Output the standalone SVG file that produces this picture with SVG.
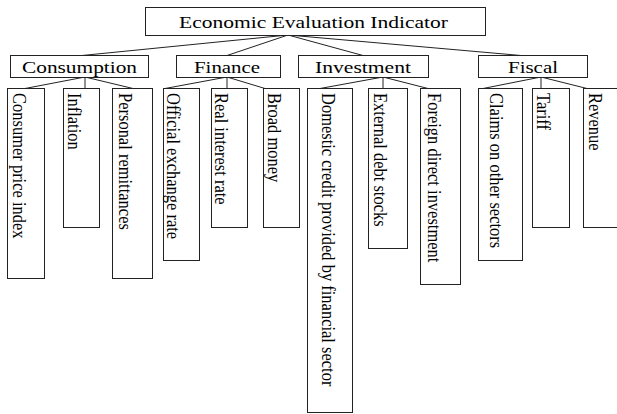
<svg xmlns="http://www.w3.org/2000/svg" width="617" height="414" viewBox="0 0 617 414">
<style>
.box{fill:#fff;stroke:#222;stroke-width:1}
.edge{fill:none;stroke:#222;stroke-width:1}
text{font-family:"Liberation Serif","Times New Roman",serif;font-size:16px;fill:#000}
.leaf{font-size:16.5px}
</style>
<rect x="0" y="0" width="617" height="414" fill="#fff"/>
<g id="connectors">
<path class="edge" d="M288,35 L82,55.5 M288,35 L227,55.5 M288,35 L363,55.5 M288,35 L521,55.5"/>
<path class="edge" d="M85,77 L25,88.5 M85,77 L85,88.5 M85,77 L133,88.5"/>
<path class="edge" d="M227,77 L165,88.5 M227,77 L227,88.5 M227,77 L265,88.5"/>
<path class="edge" d="M383,77 L320,88.5 M383,77 L383,88.5 M383,77 L428,88.5"/>
<path class="edge" d="M541,77 L483,88.5 M541,77 L541,88.5 M541,77 L587,88.5"/>
</g>
<g id="root">
<rect class="box" x="145.5" y="7.5" width="340" height="28"/>
<text x="179" y="27.5" textLength="269" lengthAdjust="spacingAndGlyphs" style="font-size:16.5px">Economic Evaluation Indicator</text>
</g>
<g id="consumption">
<rect class="box" x="10.5" y="55.5" width="138" height="22"/>
<text x="22" y="73" textLength="115" lengthAdjust="spacingAndGlyphs" style="font-size:16.5px">Consumption</text>
</g>
<g id="finance">
<rect class="box" x="176.5" y="55.5" width="104" height="22"/>
<text x="194" y="73" textLength="66" lengthAdjust="spacingAndGlyphs" style="font-size:16.5px">Finance</text>
</g>
<g id="investment">
<rect class="box" x="298.5" y="55.5" width="130" height="22"/>
<text x="315" y="73" textLength="96" lengthAdjust="spacingAndGlyphs" style="font-size:16.5px">Investment</text>
</g>
<g id="fiscal">
<rect class="box" x="478.5" y="55.5" width="109" height="22"/>
<text x="508" y="73" textLength="50" lengthAdjust="spacingAndGlyphs" style="font-size:16.5px">Fiscal</text>
</g>
<g id="cpi">
<rect class="box" x="7.5" y="88.5" width="37" height="190"/>
<text class="leaf" transform="translate(13,93) scale(1.1,1) rotate(90)">Consumer price index</text>
</g>
<g id="inflation">
<rect class="box" x="63.5" y="88.5" width="36" height="139"/>
<text class="leaf" transform="translate(68,93) scale(1.1,1) rotate(90)">Inflation</text>
</g>
<g id="remittances">
<rect class="box" x="112.5" y="88.5" width="40" height="190"/>
<text class="leaf" transform="translate(119,93) scale(1.1,1) rotate(90)">Personal remittances</text>
</g>
<g id="exchange">
<rect class="box" x="163.5" y="88.5" width="36" height="172"/>
<text class="leaf" transform="translate(167,93) scale(1.1,1) rotate(90)">Official exchange rate</text>
</g>
<g id="interest">
<rect class="box" x="211.5" y="88.5" width="36" height="139"/>
<text class="leaf" transform="translate(215,93) scale(1.1,1) rotate(90)">Real interest rate</text>
</g>
<g id="money">
<rect class="box" x="263.5" y="88.5" width="36" height="139"/>
<text class="leaf" transform="translate(268,93) scale(1.1,1) rotate(90)">Broad money</text>
</g>
<g id="credit">
<rect class="box" x="307.5" y="88.5" width="45" height="324"/>
<text class="leaf" transform="translate(322,93) scale(1.1,1) rotate(90)">Domestic credit provided by financial sector</text>
</g>
<g id="debt">
<rect class="box" x="368.5" y="88.5" width="39" height="160"/>
<text class="leaf" transform="translate(374,93) scale(1.1,1) rotate(90)">External debt stocks</text>
</g>
<g id="fdi">
<rect class="box" x="420.5" y="88.5" width="40" height="196"/>
<text class="leaf" transform="translate(428,93) scale(1.1,1) rotate(90)">Foreign direct investment</text>
</g>
<g id="claims">
<rect class="box" x="478.5" y="88.5" width="44" height="172"/>
<text class="leaf" transform="translate(490,93) scale(1.1,1) rotate(90)">Claims on other sectors</text>
</g>
<g id="tariff">
<rect class="box" x="532.5" y="88.5" width="37" height="139"/>
<text class="leaf" transform="translate(537,93) scale(1.1,1) rotate(90)">Tariff</text>
</g>
<g id="revenue">
<rect class="box" x="583.5" y="88.5" width="34" height="139"/>
<text class="leaf" transform="translate(589,93) scale(1.1,1) rotate(90)">Revenue</text>
</g>
</svg>
